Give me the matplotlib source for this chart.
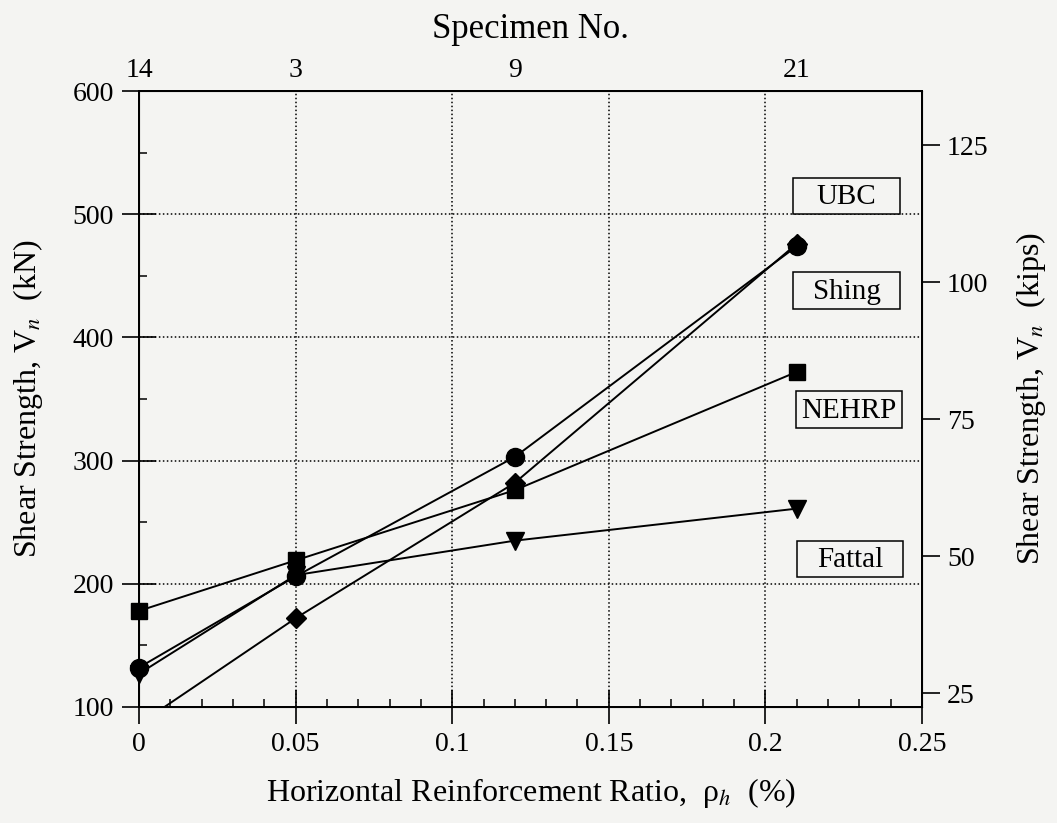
import numpy as np
import matplotlib
matplotlib.use('Agg')
import matplotlib.pyplot as plt
from matplotlib.patches import Rectangle

plt.rcParams['font.family'] = ['Liberation Serif', 'DejaVu Serif']
plt.rcParams['mathtext.fontset'] = 'stix'

# horizontal reinforcement ratio (%) of the four specimens
rho_h = [0.0, 0.05, 0.12, 0.21]
specimens = ['14', '3', '9', '21']

# nominal shear strength (kN) by method
ubc = [86, 172, 282, 476]
shing = [132, 206, 303, 474]
nehrp = [178, 219, 276, 372]
fattal = [127, 207, 235, 261]

methods = ['UBC', 'Shing', 'NEHRP', 'Fattal']
label_x = [0.2259, 0.2259, 0.2267, 0.2270]
label_y = [515, 438, 341.5, 220]

KN_PER_KIP = 4.448
bg = '#f4f4f2'

fig = plt.figure(figsize=(10.57, 8.23), dpi=100, facecolor=bg)
ax = fig.add_axes([0.1315, 0.141, 0.7408, 0.7484], facecolor=bg)
ax.set_xlim(0, 0.25)
ax.set_ylim(100, 600)

series = [(ubc, 'D', 10), (fattal, 'v', 13), (nehrp, 's', 12), (shing, 'o', 13)]
x = np.array(rho_h)
for vals, mk, ms in series:
    v = np.array(vals, dtype=float)
    ax.plot(x, v, color='k', lw=1.4, zorder=3)
    # markers on the left spine stay whole, points below the axis are hidden
    inside = v >= 100
    ax.plot(x[inside], v[inside], ls='none', marker=mk, ms=ms, color='k',
            clip_on=False, zorder=4)

# label boxes of equal size
box_w, box_h = 0.0341, 29.5
for name, lx, ly in zip(methods, label_x, label_y):
    ax.add_patch(Rectangle((lx - box_w / 2, ly - box_h / 2), box_w, box_h,
                           fc=bg, ec='k', lw=1.1, zorder=5))
    ax.text(lx, ly + 1.5, name, fontsize=21, ha='center',
            va='center_baseline', zorder=6)

ax.set_xticks([0, 0.05, 0.1, 0.15, 0.2, 0.25])
ax.set_xticklabels(['0', '0.05', '0.1', '0.15', '0.2', '0.25'])
ax.set_xticks(np.arange(0, 0.251, 0.01), minor=True)
ax.set_yticks([100, 200, 300, 400, 500, 600])
ax.set_yticks(np.arange(100, 601, 50), minor=True)
ax.tick_params(axis='both', which='major', direction='inout', length=24,
               width=1.2, labelsize=20, pad=6)
ax.tick_params(axis='both', which='minor', direction='in', length=6, width=1.1)

ax.grid(True, which='major', linestyle=(0, (1, 1.6)), color='k', lw=1.1)
ax.set_axisbelow(True)
for s in ax.spines.values():
    s.set_linewidth(1.4)

ax.set_xlabel('Horizontal Reinforcement Ratio,  ρ$_h$  (%)', fontsize=23,
              labelpad=14)
ax.set_ylabel('Shear Strength, V$_n$  (kN)', fontsize=23, labelpad=20)

axr = ax.twinx()
axr.set_ylim(100 / KN_PER_KIP, 600 / KN_PER_KIP)
axr.set_yticks([25, 50, 75, 100, 125])
axr.tick_params(axis='y', direction='out', length=13, width=1.2, labelsize=20,
                pad=5)
axr.set_ylabel('Shear Strength, V$_n$  (kips)', fontsize=23, labelpad=18)
for s in axr.spines.values():
    s.set_linewidth(1.4)

axt = ax.twiny()
axt.set_xlim(0, 0.25)
axt.set_xticks(rho_h)
axt.set_xticklabels(specimens)
axt.tick_params(axis='x', length=0, labelsize=20, pad=6)
axt.set_xlabel('Specimen No.', fontsize=25, labelpad=14)

fig.savefig('out.png', dpi=100, facecolor=bg)
